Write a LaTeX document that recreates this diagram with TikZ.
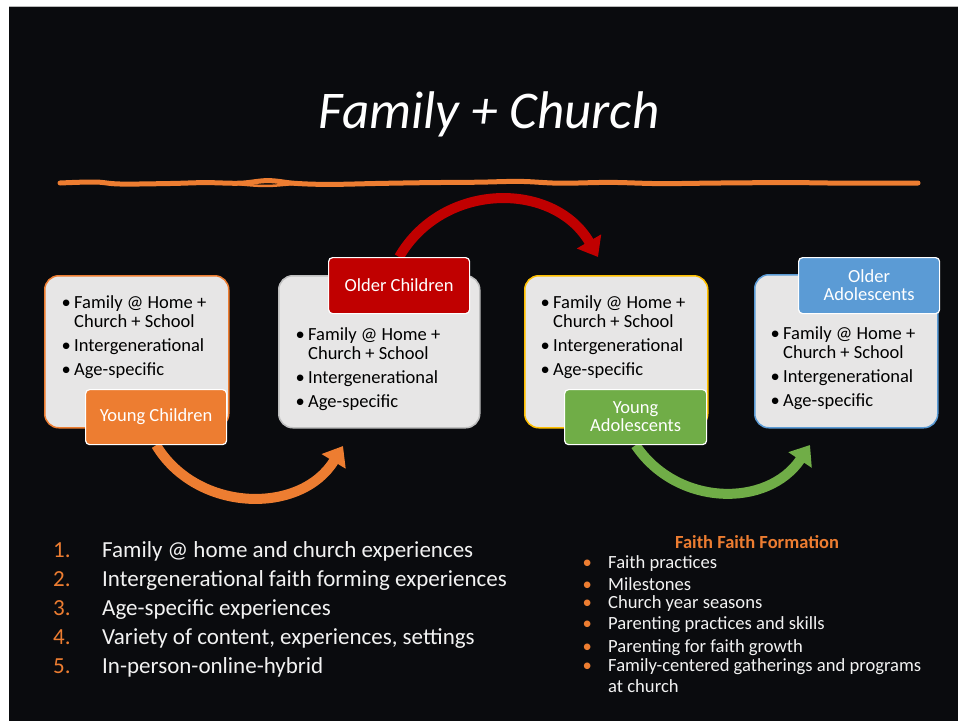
\documentclass[tikz,border=0pt]{standalone}
\usepackage{fontspec}
\setmainfont{Carlito}
\usetikzlibrary{arrows.meta}
\definecolor{slidebg}{HTML}{0A0B0E}
\definecolor{acorange}{HTML}{ED7D31}
\definecolor{acred}{HTML}{C00000}
\definecolor{acgreen}{HTML}{70AD47}
\definecolor{acblue}{HTML}{5B9BD5}
\definecolor{acgold}{HTML}{FFC000}
\definecolor{boxfill}{HTML}{E7E6E6}
\definecolor{boxgrey}{HTML}{BFBFBF}
\definecolor{listwhite}{HTML}{F2F2F2}
\pgfdeclarelayer{back}
\pgfdeclarelayer{arrowlayer}
\pgfsetlayers{back,arrowlayer,main}
\newcommand{\agelist}{\begin{tabular}[t]{@{}l@{}l@{}}\makebox[12.5pt][l]{•}&Family @ Home +\\&Church + School\\[5pt]\makebox[12.5pt][l]{•}&Intergenerational\\[5pt]\makebox[12.5pt][l]{•}&Age-specific\end{tabular}}
\newcommand{\onum}[1]{\makebox[49pt][l]{\color{acorange}#1}}
\newcommand{\obul}{\makebox[25.5pt][l]{\color{acorange}•}}
\begin{document}
\begin{tikzpicture}[x=1pt,y=-1pt,
  bigbox/.style={rectangle, rounded corners=14pt, fill=boxfill, line width=1.5pt, anchor=north west, inner sep=0pt},
  agelabel/.style={rectangle, rounded corners=4pt, draw=white, line width=1.2pt, anchor=north west, text=white, align=center, inner sep=0pt, font=\fontsize{18.5}{18}\selectfont},
  boxtext/.style={anchor=base west, inner sep=0pt, text=black, font=\fontsize{18.5}{19}\selectfont},
  bigarrow/.style={line width=10pt, -{Triangle[width=27pt,length=18pt]}}]
\useasboundingbox (0,0) rectangle (958,721);
\begin{pgfonlayer}{back}
\fill[white] (0,0) rectangle (958,721);
\fill[slidebg] (9,6) rectangle (958,721);
\draw[gray!55, line width=1pt] (9,6.5) -- (958,6.5);
\end{pgfonlayer}

% title
\node[anchor=base, inner sep=0pt, text=white, font=\itshape\fontsize{53}{53}\selectfont] (title) at (489,128) {Family + Church};

% squiggle underline
\draw[acorange, line width=5pt, line cap=round, line join=round] plot[smooth, tension=0.6] coordinates {(60,183) (95,182) (120,184) (170,183.5) (205,182.6) (240,183.2) (268,180.6) (296,183.4) (330,184.4) (380,183.4) (430,182.6) (478,182.2) (520,181.4) (560,183.2) (610,182.4) (660,183.6) (720,183) (790,182.6) (850,183.2) (918,183)};
\draw[acorange, line width=2.5pt, line cap=round] plot[smooth, tension=0.6] coordinates {(232,183.5) (255,185.6) (272,185.8) (298,183.6)};

% boxes
\node[bigbox, draw=acorange, minimum width=184pt, minimum height=152pt] (b1) at (44,275) {};
\node[bigbox, draw=boxgrey, minimum width=201pt, minimum height=152pt] (b2) at (278,275) {};
\node[bigbox, draw=acgold, minimum width=183pt, minimum height=152pt] (b3) at (524,275) {};
\node[bigbox, draw=acblue, minimum width=183pt, minimum height=153pt] (b4) at (754,274) {};

\node[boxtext] (t1) at (61.5,308) {\agelist};
\node[boxtext] (t2) at (295.5,340) {\agelist};
\node[boxtext] (t3) at (540.5,308) {\agelist};
\node[boxtext] (t4) at (770.5,339) {\agelist};

% labels
\node[agelabel, fill=acorange, minimum width=141pt, minimum height=55pt] (yc) at (85,389) {Young Children};
\node[agelabel, fill=acred, minimum width=141pt, minimum height=56pt] (oc) at (328,257) {Older Children};
\node[agelabel, fill=acgreen, minimum width=142pt, minimum height=55pt] (ya) at (564,389) {Young\\Adolescents};
\node[agelabel, fill=acblue, minimum width=141pt, minimum height=56pt] (oa) at (798,257) {Older\\Adolescents};

% arrow ends
\coordinate (e1) at (343,446);
\coordinate (e2) at (598,257);
\coordinate (e3) at (810,445);
\begin{pgfonlayer}{arrowlayer}
\draw[bigarrow, acorange] (yc.south) .. controls (197,513) and (301,515) .. (e1);
\draw[bigarrow, acred] (oc.north) .. controls (443,181) and (554,181) .. (e2);
\draw[bigarrow, acgreen] (ya.south) .. controls (677,507) and (768,508) .. (e3);
\end{pgfonlayer}

% bottom-left list
\node[anchor=base west, inner sep=0pt, text=listwhite, font=\fontsize{23}{29.2}\selectfont] (leftlist) at (53,557) {\begin{tabular}[t]{@{}l@{}l@{}}
\onum{1.}&Family @ home and church experiences\\
\onum{2.}&Intergenerational faith forming experiences\\
\onum{3.}&Age-specific experiences\\
\onum{4.}&Variety of content, experiences, settings\\
\onum{5.}&In-person-online-hybrid
\end{tabular}};

% right list
\node[anchor=base, inner sep=0pt, text=acorange, font=\bfseries\fontsize{18.5}{18}\selectfont] (rtitle) at (757,548) {Faith Faith Formation};
\node[anchor=base west, inner sep=0pt, text=listwhite, font=\fontsize{18.6}{18}\selectfont] (rightlist) at (582.5,568) {\begin{tabular}[t]{@{}l@{}l@{}}
\obul&Faith practices\\[4pt]
\obul&Milestones\\
\obul&Church year seasons\\[3pt]
\obul&Parenting practices and skills\\[4pt]
\obul&Parenting for faith growth\\[1pt]
\obul&Family-centered gatherings and programs\\[3pt]
&at church
\end{tabular}};
\end{tikzpicture}
\end{document}
